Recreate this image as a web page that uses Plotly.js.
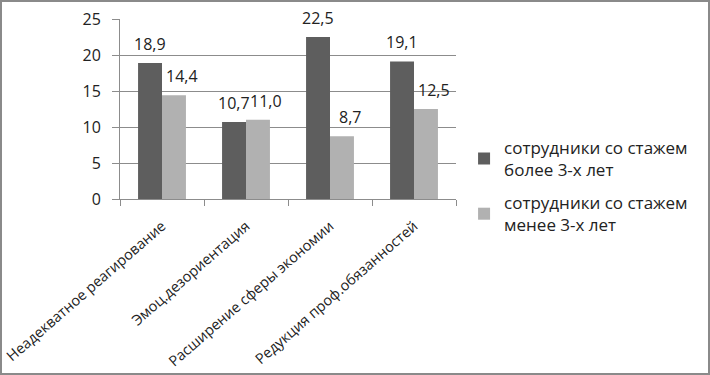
<!DOCTYPE html>
<html><head><meta charset="utf-8">
<script src="https://cdn.plot.ly/plotly-3.0.1.min.js"></script>
<style>
html,body{margin:0;padding:0;background:#fff;}
#wrap{position:relative;width:710px;height:375px;}
#chart{width:710px;height:375px;}
#frame{position:absolute;left:0;top:0;width:706px;height:371px;border:2px solid #8a8a8a;pointer-events:none;}
</style></head>
<body><div id="wrap"><div id="chart"></div><div id="frame"></div></div>
<script>
const categories = ["Неадекватное реагирование", "Эмоц.дезориентация", "Расширение сферы экономии", "Редукция проф.обязанностей"];
const seriesNames = ["сотрудники со стажем<br>более 3-х лет", "сотрудники со стажем<br>менее 3-х лет"];
const moreThan3 = [18.9, 10.7, 22.5, 19.1];
const lessThan3 = [14.4, 11.0, 8.7, 12.5];
const yTicks = [0, 5, 10, 15, 20, 25];

const fmt = v => v.toFixed(1).replace('.', ',');
const font = "Open Sans, Liberation Sans, sans-serif";
const colors = ['#5e5e5e', '#b1b1b1'];

const traces = [
  {type:'bar', name:seriesNames[0], legendgroup:'g1', x:categories, y:moreThan3, marker:{color:colors[0]}},
  {type:'bar', name:seriesNames[1], legendgroup:'g2', x:categories, y:lessThan3, marker:{color:colors[1]}}
];

const annotations = [];
[[moreThan3, -12], [lessThan3, 20]].forEach(([vals, dx]) => {
  vals.forEach((v, i) => {
    annotations.push({x:categories[i], y:v, xref:'x', yref:'y', text:fmt(v), showarrow:false,
      xanchor:'center', yanchor:'bottom', xshift:dx, yshift:6,
      font:{size:16, color:'#222', family:font}});
  });
});

const layout = {
  width:710, height:375,
  margin:{l:120, r:254, t:19, b:176},
  paper_bgcolor:'#fff', plot_bgcolor:'#fff',
  barmode:'group', bargap:0.43, bargroupgap:0,
  font:{family:font, color:'#222'},
  annotations:annotations,
  xaxis:{type:'category', tickangle:-41, tickfont:{size:14.5, color:'#222'},
    showline:true, linecolor:'#8c8c8c', linewidth:1, ticks:'outside', tickson:'boundaries',
    ticklen:6, tickcolor:'#8c8c8c', showgrid:false, ticklabelstandoff:12},
  yaxis:{range:[0,25], tickvals:yTicks, ticktext:yTicks.map(String), tickfont:{size:16, color:'#222'},
    showline:true, linecolor:'#8c8c8c', ticks:'outside', ticklen:7, tickcolor:'#8c8c8c',
    ticklabelstandoff:8,
    gridcolor:'#8c8c8c', gridwidth:1, zeroline:false},
  showlegend:true,
  legend:{x:1.024, y:0.07, xanchor:'left', yanchor:'middle', font:{size:17, color:'#222'},
    traceorder:'grouped', tracegroupgap:8, itemwidth:30, bgcolor:'rgba(0,0,0,0)'}
};
Plotly.newPlot('chart', traces, layout, {displayModeBar:false, staticPlot:true});
</script></body></html>
